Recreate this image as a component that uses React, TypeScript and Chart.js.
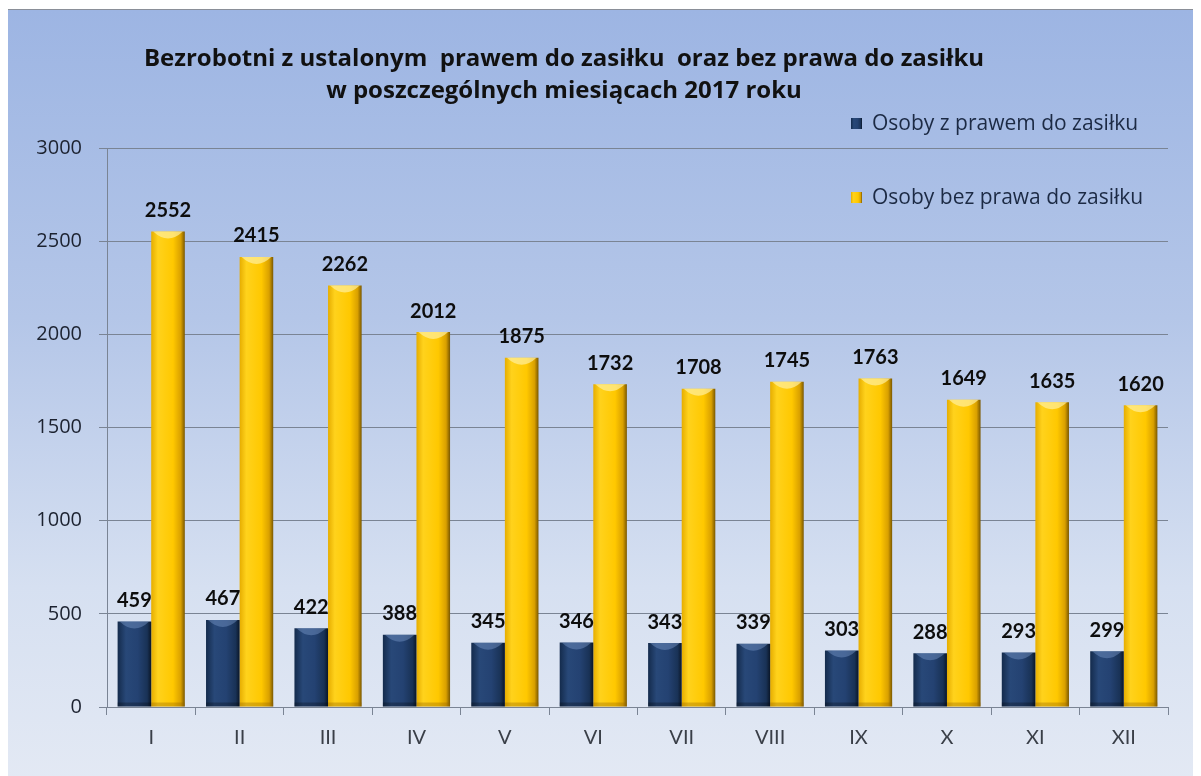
import React, { useEffect, useRef } from "react";
import { Chart, registerables } from "chart.js";

Chart.register(...registerables);

const months = ["I", "II", "III", "IV", "V", "VI", "VII", "VIII", "IX", "X", "XI", "XII"];
const withBenefit = [459, 467, 422, 388, 345, 346, 343, 339, 303, 288, 293, 299];
const withoutBenefit = [2552, 2415, 2262, 2012, 1875, 1732, 1708, 1745, 1763, 1649, 1635, 1620];
const seriesNames = ["Osoby z prawem do zasiłku", "Osoby bez prawa do zasiłku"];
const titleLines = [
  "Bezrobotni z ustalonym  prawem do zasiłku  oraz bez prawa do zasiłku",
  "w poszczególnych miesiącach 2017 roku",
];

const FONT = "Lato, 'Open Sans', sans-serif";
const FONT2 = "'Open Sans', Lato, sans-serif";

const gradientStops: [number, string][][] = [
  [
    [0, "#142b4c"],
    [0.25, "#284878"],
    [0.6, "#244272"],
    [0.88, "#193256"],
    [1, "#0a1628"],
  ],
  [
    [0, "#e6ad00"],
    [0.2, "#ffd21c"],
    [0.65, "#ffc800"],
    [0.88, "#d9a000"],
    [1, "#7a5800"],
  ],
];

const barStylePlugin = {
  id: "barStyle",
  beforeDatasetsDraw(chart: any) {
    const ctx = chart.ctx;
    chart.data.datasets.forEach((_ds: any, di: number) => {
      const meta = chart.getDatasetMeta(di);
      meta.data.forEach((el: any) => {
        const w = el.width;
        const g = ctx.createLinearGradient(el.x - w / 2, 0, el.x + w / 2, 0);
        gradientStops[di].forEach(([o, c]) => g.addColorStop(o, c));
        el.options = { ...el.options, backgroundColor: g };
      });
    });
  },
  afterDatasetsDraw(chart: any) {
    const ctx = chart.ctx;
    ctx.save();
    chart.data.datasets.forEach((_ds: any, di: number) => {
      const meta = chart.getDatasetMeta(di);
      meta.data.forEach((el: any) => {
        const w = el.width;
        const l = el.x - w / 2;
        const top = el.y;
        ctx.beginPath();
        ctx.moveTo(l + 2, top);
        ctx.lineTo(l + w - 2, top);
        ctx.quadraticCurveTo(el.x, top + 14, l + 2, top);
        ctx.closePath();
        ctx.fillStyle = di === 0 ? "rgba(120,150,200,0.45)" : "rgba(255,240,160,0.7)";
        ctx.fill();
        ctx.fillStyle = di === 0 ? "rgba(0,0,0,0.25)" : "rgba(150,100,0,0.35)";
        ctx.fillRect(l, el.base - 4, w, 4);
      });
    });
    ctx.font = `bold 20px ${FONT}`;
    ctx.fillStyle = "#0d0d0d";
    ctx.textAlign = "center";
    ctx.textBaseline = "bottom";
    chart.data.datasets.forEach((ds: any, di: number) => {
      const meta = chart.getDatasetMeta(di);
      meta.data.forEach((el: any, i: number) => {
        ctx.fillText(String(ds.data[i]), el.x, el.y - 11);
      });
    });
    ctx.restore();
  },
};

const overlayPlugin = {
  id: "overlayText",
  afterDraw(chart: any) {
    const ctx = chart.ctx;
    ctx.save();
    ctx.font = `bold 24px ${FONT2}`;
    ctx.fillStyle = "#111111";
    ctx.textAlign = "center";
    ctx.textBaseline = "middle";
    titleLines.forEach((line, i) => ctx.fillText(line, 556, 49 + i * 32));
    ctx.font = `21px ${FONT2}`;
    ctx.textAlign = "left";
    chart.data.datasets.forEach((ds: any, di: number) => {
      const cy = 113 + di * 74;
      const g = ctx.createLinearGradient(843, 0, 854, 0);
      gradientStops[di].forEach(([o, c]) => g.addColorStop(o, c));
      ctx.fillStyle = g;
      ctx.fillRect(843, cy - 5, 11, 11);
      ctx.fillStyle = "#1c2a44";
      ctx.fillText(ds.label, 864, cy + 1);
    });
    ctx.restore();
  },
};

export default function App() {
  const ref = useRef<HTMLCanvasElement>(null);
  useEffect(() => {
    if (!ref.current) return;
    const chart = new Chart(ref.current, {
      type: "bar",
      data: {
        labels: months,
        datasets: [
          { label: seriesNames[0], data: withBenefit, backgroundColor: "#1f3a64", borderWidth: 0 },
          { label: seriesNames[1], data: withoutBenefit, backgroundColor: "#ffc800", borderWidth: 0 },
        ],
      },
      options: {
        responsive: false,
        animation: false,
        layout: { padding: { left: 20, right: 25, top: 138, bottom: 31 } },
        datasets: { bar: { barPercentage: 1, categoryPercentage: 0.76 } },
        plugins: {
          legend: { display: false },
          title: { display: false },
          tooltip: { enabled: false },
        },
        scales: {
          x: {
            afterFit: (s: any) => {
              s.height = 40;
            },
            grid: {
              drawOnChartArea: false,
              drawTicks: true,
              tickLength: 8,
              color: "#7a8494",
            },
            border: { display: true, color: "#7a8494" },
            ticks: { color: "#3a3f48", font: { family: FONT, size: 20 }, padding: 11 },
          },
          y: {
            min: 0,
            max: 3000,
            afterFit: (s: any) => {
              s.width = 79;
            },
            grid: { color: "#7a8494", tickLength: 8, drawTicks: true },
            border: { display: true, color: "#7a8494" },
            ticks: {
              stepSize: 500,
              color: "#1c2230",
              font: { family: FONT2, size: 20 },
              padding: 17,
              callback: (v: any) => String(v),
            },
          },
        },
      },
      plugins: [barStylePlugin, overlayPlugin],
    });
    return () => chart.destroy();
  }, []);

  return (
    <div
      style={{
        position: "relative",
        width: 1185,
        height: 770,
        border: "1px solid #8a8f98",
        borderBottom: "none",
        background: "linear-gradient(to bottom, #9db5e3 0%, #b4c6e8 40%, #d6e0f1 75%, #e3e9f4 100%)",
        marginTop: 1,
        marginLeft: -1,
      }}
    >
      <canvas ref={ref} width={1185} height={768} style={{ display: "block" }} />
    </div>
  );
}
